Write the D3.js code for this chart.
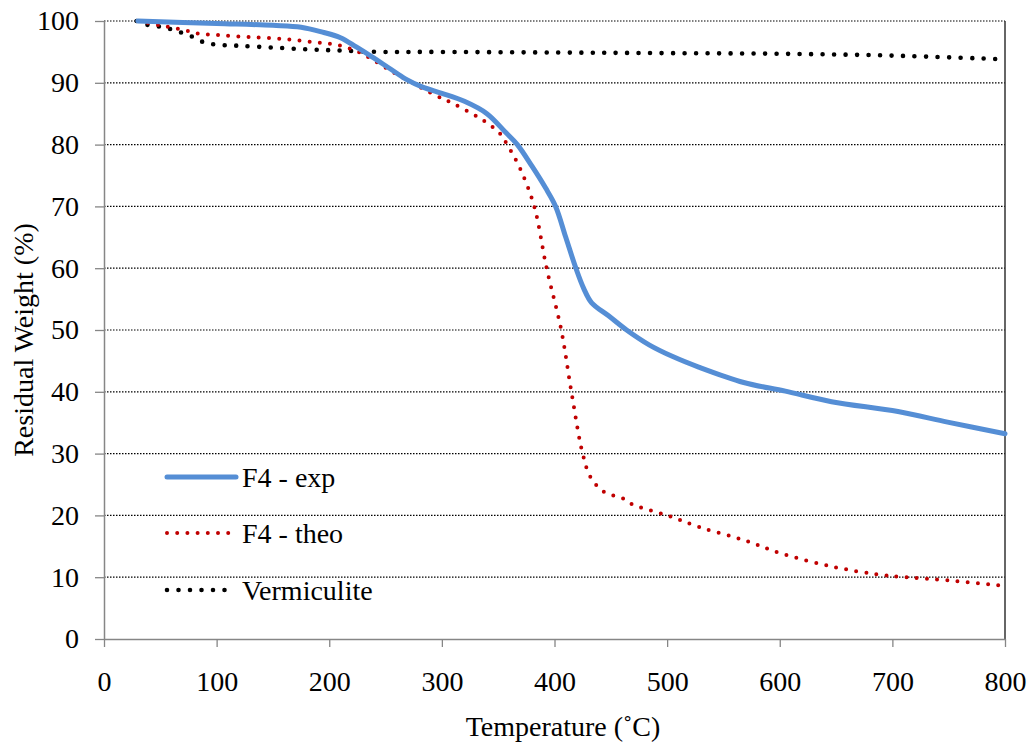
<!DOCTYPE html>
<html>
<head>
<meta charset="utf-8">
<title>Residual Weight</title>
<script src="https://d3js.org/d3.v7.min.js"></script>
<style>
  body { margin: 0; background: #fff; }
  svg text { font-family: "Liberation Serif", "Times New Roman", Times, serif !important; }
</style>
</head>
<body>
<svg width="1031" height="747"></svg>
<script>
// data
const expT = [30,100,150,175,194,210,224,238,253,268,283,300,320,340,357,367,380,392,401,410,419,426,433,448,464,484,505,528,568,605,646,705,749,800];
const expW = [100,99.6,99.3,99.0,98.2,97.3,95.8,94.2,92.4,90.6,89.3,88.3,87.0,85.0,81.9,80.0,76.5,73.0,70.0,65.0,60.0,56.7,54.4,52.3,50.0,47.6,45.7,44.0,41.5,40.1,38.4,36.8,35.1,33.2];

const theoT = [30,47,56,74,83,103,129,159,185,205,222,238,255,271,295,304,336,351,358,370,382,393,406,415,425,432,444,460,469,500,529,568,602,647,685,711,749,800];
const theoW = [100,99.4,99.1,98.4,98.0,97.7,97.4,97.1,96.6,96.2,95.3,93.8,91.9,90.3,87.9,87.2,84.0,81.9,80.0,75.9,70.0,60.0,50.0,40.0,30.0,26.2,23.8,22.8,21.8,20.0,18.1,16.0,13.8,11.7,10.5,10.0,9.5,8.6];

const vermT = [29,38,49,59,69,79,88,98,119,150,182,212,244,286,400,500,600,700,800];
const vermW = [100,99.4,99.1,98.7,98.1,97.4,96.6,96.2,96.0,95.7,95.4,95.2,95.0,95.0,94.9,94.8,94.7,94.4,93.8];

const xTicks = [0,100,200,300,400,500,600,700,800];
const yTicks = [0,10,20,30,40,50,60,70,80,90,100];

const svg = d3.select("svg");
const plotL = 104, plotT = 21, plotR = 1005, plotB = 639;

const x = d3.scaleLinear().domain([0, 800]).range([plotL, plotR]);
const y = d3.scaleLinear().domain([0, 100]).range([plotB, plotT]);

// gridlines
svg.append("g").selectAll("line")
  .data(yTicks.filter(d => d > 0))
  .enter().append("line")
  .attr("x1", plotL).attr("x2", plotR)
  .attr("y1", d => y(d)).attr("y2", d => y(d))
  .attr("stroke", "#000").attr("stroke-width", 1.2)
  .attr("stroke-dasharray", "1.5,1.5");

// right border
svg.append("line")
  .attr("x1", plotR).attr("x2", plotR).attr("y1", plotT).attr("y2", plotB)
  .attr("stroke", "#333").attr("stroke-width", 1.5);

// axes
const xAxis = svg.append("g")
  .attr("transform", `translate(0,${plotB})`)
  .call(d3.axisBottom(x).tickValues(xTicks).tickSize(8).tickSizeOuter(0).tickPadding(24));
const yAxis = svg.append("g")
  .attr("transform", `translate(${plotL},0)`)
  .call(d3.axisLeft(y).tickValues(yTicks).tickSize(9).tickSizeOuter(0).tickPadding(16));

[xAxis, yAxis].forEach(g => {
  g.select(".domain").attr("stroke", "#868686").attr("stroke-width", 1.5);
  g.selectAll(".tick line").attr("stroke", "#868686").attr("stroke-width", 1.3);
  g.selectAll("text").attr("font-size", 28).attr("fill", "#000");
});

// axis titles
svg.append("text")
  .attr("x", 563).attr("y", 736)
  .attr("text-anchor", "middle").attr("font-size", 28)
  .text("Temperature (˚C)");
svg.append("text")
  .attr("transform", `translate(33,340) rotate(-90)`)
  .attr("text-anchor", "middle").attr("font-size", 28)
  .text("Residual Weight (%)");

const line = d3.line().x(d => x(d[0])).y(d => y(d[1])).curve(d3.curveCatmullRom.alpha(0.5));

const series = [
  { name: "F4 - exp", pts: d3.zip(expT, expW), color: "#558ED5", width: 5, dash: null },
  { name: "F4 - theo", pts: d3.zip(theoT, theoW), color: "#C00000", width: 4, dash: "0,10.2" },
  { name: "Vermiculite", pts: d3.zip(vermT, vermW), color: "#000", width: 4.6, dash: "0,11.5" }
];

// draw dotted ones first, blue on top
[series[2], series[1], series[0]].forEach(s => {
  svg.append("path")
    .datum(s.pts)
    .attr("d", line)
    .attr("fill", "none")
    .attr("stroke", s.color)
    .attr("stroke-width", s.width)
    .attr("stroke-linecap", "round")
    .attr("stroke-dasharray", s.dash);
});

// legend
const legY = [477, 533, 590];
series.forEach((s, i) => {
  const g = svg.append("g");
  g.append("line")
    .attr("x1", 167).attr("x2", s.dash ? 233 : 236)
    .attr("y1", legY[i]).attr("y2", legY[i])
    .attr("stroke", s.color).attr("stroke-width", s.width)
    .attr("stroke-linecap", "round")
    .attr("stroke-dasharray", s.dash);
  g.append("text")
    .attr("x", 242).attr("y", legY[i] + 10)
    .attr("font-size", 28)
    .text(s.name);
});
</script>
</body>
</html>
